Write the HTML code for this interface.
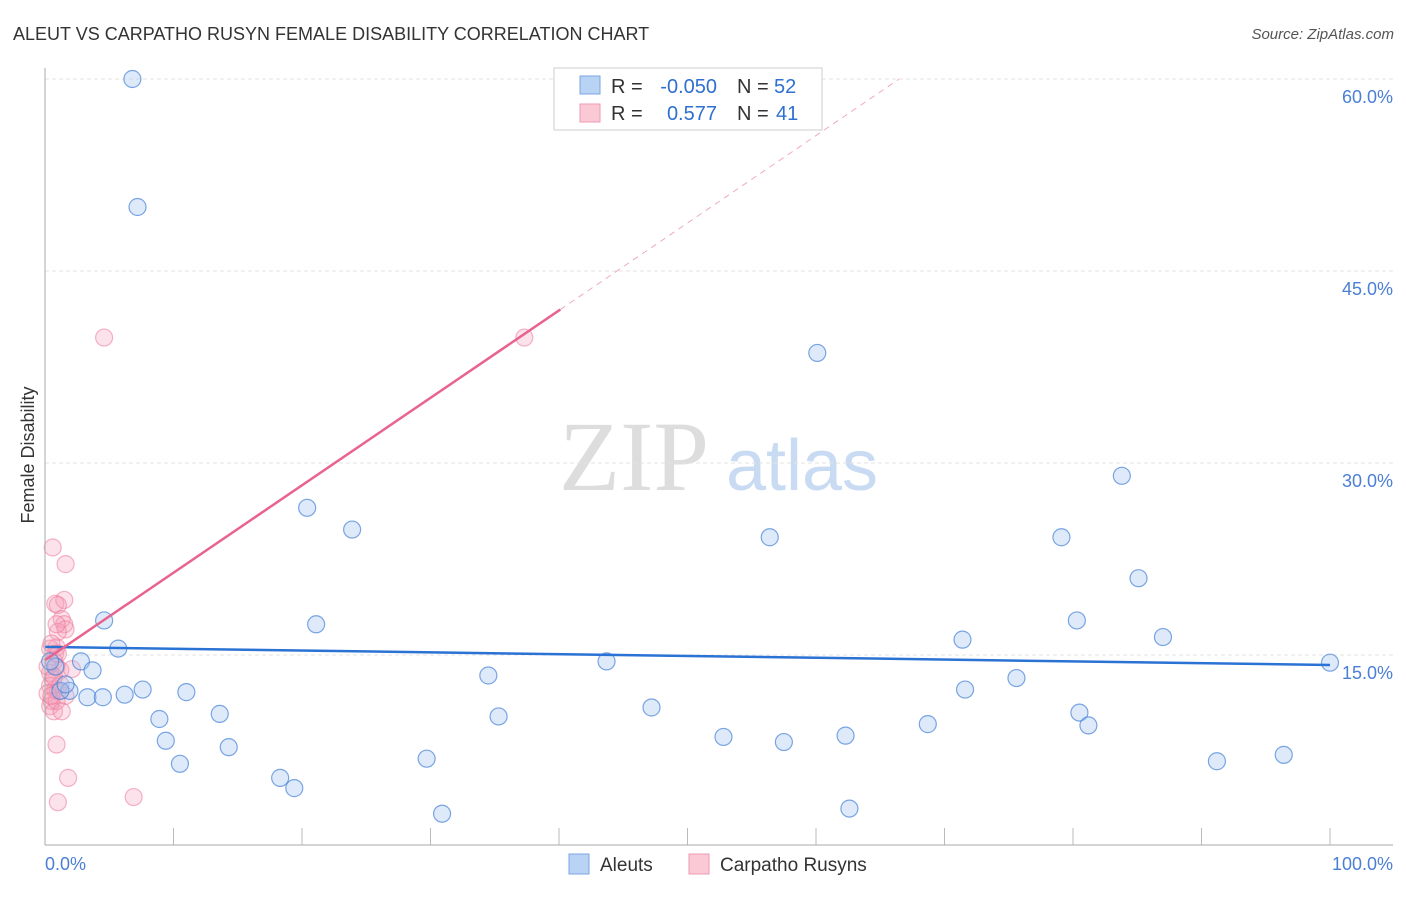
<!DOCTYPE html>
<html><head><meta charset="utf-8"><style>
body{margin:0;background:#fff;font-family:"Liberation Sans",sans-serif}
</style></head><body>
<svg width="1406" height="892" xmlns="http://www.w3.org/2000/svg" id="c">
<text x="13" y="40" font-size="18" fill="#333">ALEUT VS CARPATHO RUSYN FEMALE DISABILITY CORRELATION CHART</text>
<text x="1394" y="39" font-size="15" fill="#555" font-style="italic" text-anchor="end">Source: ZipAtlas.com</text>
<text x="34" y="455" font-size="18" fill="#333" transform="rotate(-90 34 455)" text-anchor="middle">Female Disability</text>
<g><text x="634" y="490" font-size="100" fill="#ddd" font-family="Liberation Serif" text-anchor="middle">ZIP</text><text x="802" y="490" font-size="72" fill="#c8dbf2" text-anchor="middle">atlas</text></g>
<g id="grid"></g><g id="pts"></g><g id="lines"></g>
<line x1="45" y1="68" x2="45" y2="845" stroke="#aaa"/>
<line x1="45" y1="845" x2="1393" y2="845" stroke="#aaa"/>
<text x="45" y="870" font-size="18" fill="#4a7fd4">0.0%</text>
<text x="1393" y="870" font-size="18" fill="#4a7fd4" text-anchor="end">100.0%</text>
<g font-size="20">
<rect x="554" y="68" width="268" height="62" fill="#fff" stroke="#ccc"/>
<rect x="580" y="76" width="20" height="18" fill="#b9d3f5" stroke="#7aa6e0"/>
<text x="611" y="93" fill="#333">R =</text><text x="717" y="93" fill="#2f6fd0" text-anchor="end">-0.050</text>
<text x="737" y="93" fill="#333">N =</text><text x="774" y="93" fill="#2f6fd0">52</text>
<rect x="580" y="104" width="20" height="18" fill="#fbc9d6" stroke="#ee9ab1"/>
<text x="611" y="120" fill="#333">R =</text><text x="717" y="120" fill="#2f6fd0" text-anchor="end">0.577</text>
<text x="737" y="120" fill="#333">N =</text><text x="776" y="120" fill="#2f6fd0">41</text>
</g>
<g>
<rect x="569" y="854" width="20" height="20" fill="#b9d3f5" stroke="#7aa6e0"/>
<text x="600" y="871" font-size="19" fill="#333">Aleuts</text>
<rect x="689" y="854" width="20" height="20" fill="#fbc9d6" stroke="#ee9ab1"/>
<text x="720" y="871" font-size="19" fill="#333">Carpatho Rusyns</text>
</g>
</svg>
<script>
const yTicks=[15,30,45,60];
const yTickLabels=["15.0%","30.0%","45.0%","60.0%"];
const xTicks=[10,20,30,40,50,60,70,80,90,100];
const aleutX=[6.8,7.2,60.1,83.8,20.4,23.9,56.4,79.1,85.1,4.6,21.1,80.3,71.4,87,5.7,2.8,3.7,43.7,100,34.5,75.6,1.9,1.2,3.3,4.5,6.2,7.6,11,71.6,47.2,13.6,35.3,8.9,80.5,68.7,81.2,9.4,52.8,62.3,57.5,14.3,29.7,10.5,91.2,96.4,18.3,19.4,30.9,62.6,0.8,0.4,1.6];
const aleutY=[60,50,38.6,29,26.5,24.8,24.2,24.2,21,17.7,17.4,17.7,16.2,16.4,15.5,14.5,13.8,14.5,14.4,13.4,13.2,12.2,12.2,11.7,11.7,11.9,12.3,12.1,12.3,10.9,10.4,10.2,10,10.5,9.6,9.5,8.3,8.6,8.7,8.2,7.8,6.9,6.5,6.7,7.2,5.4,4.6,2.6,3,14.1,14.5,12.7];
const rusynX=[4.6,37.3,0.6,1.6,0.8,1.5,1,1.3,1.5,1.6,1,0.9,0.8,0.7,0.9,1.2,2.1,0.4,0.6,0.4,0.8,1,0.2,0.5,0.4,0.7,0.9,0.9,1.8,1,6.9,0.5,1.2,0.2,1.6,0.4,0.9,0.5,1.3,1,0.7];
const rusynY=[39.8,39.8,23.4,22.1,19,19.3,18.9,17.8,17.4,17,16.8,15.6,15.1,14.5,14.1,13.8,13.9,13.6,13.1,12.6,12.3,12.2,12,11.4,11,10.6,11.4,8,5.4,3.5,3.9,11.8,12.7,14.1,11.8,15.5,17.4,15.9,10.6,15.1,13.3];
const aleutTrend=[15.63,14.22];
const rusynTrend=[14.6,0.683];
const sx=v=>45+v*12.85, sy=v=>655-(v-15)*12.8;
const NS="http://www.w3.org/2000/svg";
function mk(t,a,p){const e=document.createElementNS(NS,t);for(const k in a)e.setAttribute(k,a[k]);p.appendChild(e);return e;}
const g=document.getElementById('grid');
yTicks.forEach((t,i)=>{
 const l=mk('line',{x1:45,x2:1393,y1:sy(t),y2:sy(t),stroke:'#e3e3e3','stroke-dasharray':'4,3'},g);
 
 
 const tx=mk('text',{x:1393,y:sy(t)+24,'font-size':18,fill:'#4a7fd4','text-anchor':'end'},g);
 tx.textContent=yTickLabels[i];
 
 
});
xTicks.forEach(t=>{
 const l=mk('line',{x1:sx(t),x2:sx(t),y1:828,y2:845,stroke:'#bbb'},g);
 
 
});
const p=document.getElementById('pts');
rusynX.forEach((x,i)=>{
 const c=mk('circle',{cx:sx(x),cy:sy(rusynY[i]),r:8.5,fill:'rgba(246,160,185,0.3)',stroke:'rgba(236,120,155,0.55)','stroke-width':1.2},p);
 
 
});
aleutX.forEach((x,i)=>{
 const c=mk('circle',{cx:sx(x),cy:sy(aleutY[i]),r:8.5,fill:'rgba(160,196,240,0.35)',stroke:'rgba(70,130,215,0.7)','stroke-width':1.2},p);
 
 
});
const L=document.getElementById('lines');
const bl=mk('line',{x1:sx(0),y1:sy(aleutTrend[0]),x2:sx(100),y2:sy(aleutTrend[1]),stroke:'#2a72d4','stroke-width':2.5},L);


const rf=x=>rusynTrend[0]+rusynTrend[1]*x;
const xe=(60-rusynTrend[0])/rusynTrend[1];
const rd=mk('line',{x1:sx(40.1),y1:sy(rf(40.1)),x2:sx(xe),y2:sy(60),stroke:'#eeaabd','stroke-width':1,'stroke-dasharray':'6,5'},L);


const rl=mk('line',{x1:sx(0),y1:sy(rf(0)),x2:sx(40.1),y2:sy(rf(40.1)),stroke:'#e8638e','stroke-width':2.5},L);


</script>
</body></html>
